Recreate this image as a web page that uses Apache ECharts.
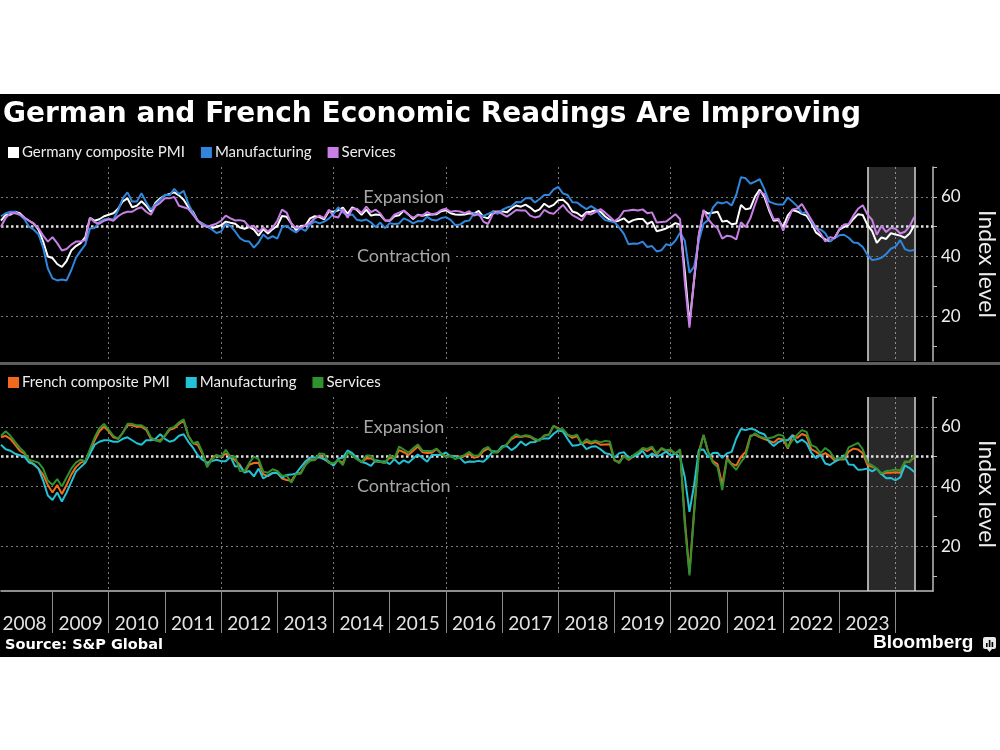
<!DOCTYPE html>
<html>
<head>
<meta charset="utf-8">
<script src="https://cdn.jsdelivr.net/npm/echarts@6/dist/echarts.min.js"></script>
<style>
  body { margin: 0; background: #fff; }
  #panel { position: absolute; left: 0; top: 94px; width: 1000px; height: 563px; background: #000; }
  #chart { position: absolute; left: 0; top: 0; width: 1000px; height: 750px; }
</style>
</head>
<body>
<div id="panel"></div>
<div id="chart"></div>
<script>
// monthly categories, Jan 2008 .. Aug 2024 (axis runs a few months past the data)
const months = [];
for (let y = 2008; y <= 2024; y++) {
    for (let m = 1; m <= 12; m++) {
        if (y === 2024 && m > 8) break;
        months.push(y + '-' + String(m).padStart(2, '0'));
    }
}

// Germany (Jan 2008 .. Apr 2024)
const deComposite = [
    52, 54, 54, 55, 54.5, 53, 52, 51, 49, 45, 40, 39.5,
    37.5, 36.5, 38.5, 42, 43.5, 44.5, 46.5, 53, 52, 52.5, 53.5, 54,
    54.5, 56, 58.5, 59.5, 56.5, 57, 58.5, 57, 55, 58, 59.5, 60.5,
    61, 61.5, 60.5, 59, 56.5, 55, 52, 51, 50, 49.5, 50, 50.5,
    51.7, 51.3, 51.0, 49.7, 49.3, 49.9, 49.0, 47.0, 49.2, 47.7, 49.2, 50.3,
    53.6, 53.3, 51.1, 48.8, 50.2, 50.4, 52.8, 53.5, 53.2, 52.5, 55.2, 55.0,
    55.5, 56.4, 54.3, 56.5, 55.6, 54.0, 55.7, 53.7, 54.1, 53.9, 52.1, 52.0,
    53.5, 53.8, 55.4, 54.1, 52.6, 54.0, 53.7, 54.0, 54.1, 54.2, 55.2, 55.5,
    54.5, 54.1, 54.0, 54.1, 54.5, 54.4, 55.3, 53.3, 52.8, 55.1, 55.0, 55.2,
    54.8, 56.1, 57.1, 56.7, 57.4, 56.4, 55.1, 55.8, 57.7, 56.6, 57.3, 58.9,
    59.0, 57.6, 55.1, 54.6, 53.4, 54.8, 55.0, 55.6, 55.0, 53.4, 52.3, 51.6,
    52.1, 52.8, 51.4, 52.2, 52.6, 52.6, 50.9, 51.7, 48.5, 48.9, 49.4, 50.2,
    51.2, 50.7, 35.0, 17.4, 32.3, 47.0, 55.3, 54.4, 54.7, 55.0, 51.7, 52.0,
    50.8, 51.1, 57.3, 55.8, 56.2, 60.1, 62.4, 60.0, 55.5, 52.0, 52.2, 49.9,
    53.8, 55.6, 55.1, 54.3, 53.7, 51.3, 48.1, 46.9, 45.7, 45.1, 46.3, 49.0,
    49.9, 50.7, 52.6, 54.2, 53.9, 50.6, 48.5, 44.6, 46.4, 45.9, 47.8, 47.4,
    47.0, 46.3, 47.7, 50.5
];
const deManufacturing = [
    53.5, 54.5, 55, 55, 54, 52.5, 50, 49, 47.5, 43, 36, 32.7,
    32, 32.3, 32, 35.4, 39.6, 41.9, 44, 49.4, 49.6, 51.5, 52.4, 52.7,
    52.4, 55.5, 59.5, 61.5, 58.4, 58.4, 61.2, 58.2, 55.7, 57.5, 59, 60.7,
    60.5, 62.7, 60.9, 62.0, 57.7, 54.6, 52.0, 50.9, 50.3, 49.1, 47.9, 48.4,
    51.0, 50.2, 48.4, 46.2, 45.2, 45.0, 43.0, 44.7, 47.4, 46.0, 46.8, 46.0,
    49.8, 50.3, 49.0, 48.1, 49.4, 48.6, 50.7, 51.8, 51.1, 51.7, 52.7, 54.3,
    56.5, 54.8, 53.7, 54.1, 52.3, 52.0, 52.4, 51.4, 49.9, 51.4, 49.5, 51.2,
    50.9, 51.1, 52.8, 52.1, 51.1, 51.9, 51.8, 53.3, 52.3, 52.1, 52.9, 53.2,
    52.3, 50.5, 50.7, 51.8, 52.1, 54.5, 53.8, 53.6, 54.3, 55.0, 54.3, 55.6,
    56.4, 56.8, 58.3, 58.2, 59.5, 59.6, 58.1, 59.3, 60.6, 60.6, 62.5, 63.3,
    61.1, 60.6, 58.2, 58.1, 56.9, 55.9, 56.9, 55.9, 53.7, 52.2, 51.8, 51.5,
    49.7, 47.6, 44.1, 44.4, 44.3, 45.0, 43.2, 43.5, 41.7, 42.1, 44.1, 43.7,
    45.3, 48.0, 45.4, 34.5, 36.6, 45.2, 51.0, 52.2, 56.4, 58.2, 57.8, 58.3,
    57.1, 60.7, 66.6, 66.2, 64.4, 65.1, 65.9, 62.6, 58.4, 57.8, 57.4, 57.4,
    59.8, 58.4, 56.9, 54.6, 54.8, 52.0, 49.3, 49.1, 47.8, 45.1, 46.2, 47.1,
    47.3, 46.3, 44.7, 44.5, 43.2, 40.6, 38.8, 39.1, 39.6, 40.8, 42.6, 43.3,
    45.5, 42.5, 41.9, 42.2
];
const deServices = [
    50, 53, 54.5, 54.5, 54, 53, 52, 51, 49.5, 47, 45, 46.5,
    44.5, 42, 42.5, 44, 45, 45, 45.5, 53, 51.5, 51, 52, 52.5,
    52, 53.5, 54.5, 55, 55, 56, 56.5, 55, 54, 57, 58, 59.5,
    59.5, 60, 57, 56.5, 56, 54, 52, 50.5, 50, 50.5, 51, 52,
    53.7, 52.8, 52.1, 52.2, 51.8, 49.9, 50.3, 48.3, 49.7, 48.4, 49.7, 52.0,
    55.7, 54.7, 50.9, 49.6, 49.7, 50.4, 51.3, 52.8, 53.7, 52.9, 55.7, 53.5,
    53.1, 55.9, 53.0, 56.0, 56.0, 54.6, 56.7, 54.9, 55.7, 54.4, 52.1, 52.1,
    54.0, 54.7, 55.4, 54.0, 53.0, 53.8, 53.8, 54.9, 54.1, 54.5, 55.6, 56.0,
    55.0, 55.3, 55.1, 54.5, 55.2, 53.7, 54.4, 51.7, 50.9, 54.2, 55.1, 54.3,
    53.4, 54.4, 55.6, 55.4, 55.4, 53.7, 53.1, 53.5, 55.6, 54.7, 54.3, 55.8,
    57.3, 55.3, 53.9, 53.0, 52.1, 54.5, 54.1, 55.0, 55.9, 54.7, 53.3, 51.8,
    53.0, 55.3, 55.4, 55.7, 55.4, 55.8, 54.5, 54.8, 51.4, 51.6, 51.7, 52.9,
    54.2, 52.5, 31.7, 16.2, 32.6, 47.3, 55.6, 52.5, 50.6, 49.5, 46.0, 47.0,
    46.7, 45.7, 51.5, 49.9, 52.8, 57.5, 61.8, 60.8, 56.2, 52.4, 52.7, 48.7,
    52.2, 55.8, 56.1, 57.6, 55.0, 52.4, 49.7, 47.7, 45.0, 46.5, 46.1, 49.2,
    50.7, 50.9, 53.7, 56.0, 57.2, 54.1, 52.3, 47.3, 50.3, 48.2, 49.6, 49.3,
    47.7, 48.3, 50.1, 53.3
];

// France (Jan 2008 .. Apr 2024)
const frComposite = [
    56.5, 57, 56, 54, 52, 51, 48.5, 47.5, 46, 44, 40.5, 38,
    40.5, 37.5, 40.5, 44, 46.5, 48, 48.5, 52, 55.5, 58.5, 60, 58.5,
    56.5, 56, 58, 60.5, 60.5, 60, 60, 59, 56, 55.5, 55.5, 57,
    59, 59.5, 61, 62, 57, 54.5, 54, 51, 47, 49.5, 50.5, 50,
    51.0, 50.2, 48.7, 47.3, 44.6, 47.3, 47.9, 48.0, 44.1, 43.5, 44.6, 44.6,
    42.7, 42.2, 41.9, 44.3, 44.6, 47.4, 49.1, 48.9, 50.5, 49.3, 48.0, 47.3,
    48.9, 47.9, 51.8, 50.6, 49.3, 48.1, 49.4, 49.5, 48.4, 48.2, 47.9, 49.7,
    49.3, 52.2, 51.5, 50.6, 52.0, 53.4, 51.5, 51.2, 51.3, 52.6, 51.0, 50.1,
    50.3, 50.2, 50.0, 50.2, 50.9, 49.6, 50.1, 51.9, 52.7, 51.6, 51.4, 53.1,
    54.1, 55.9, 56.8, 56.6, 56.9, 56.6, 55.6, 55.6, 57.1, 57.4, 60.3, 59.6,
    58.6, 57.3, 56.3, 56.9, 54.2, 55.0, 54.4, 54.9, 54.0, 54.1, 54.2, 48.7,
    48.2, 50.4, 48.9, 50.1, 51.2, 52.7, 51.9, 52.9, 50.8, 52.6, 52.1, 52.0,
    51.1, 52.0, 28.9, 11.1, 32.1, 51.7, 57.3, 51.6, 48.5, 47.5, 40.6, 49.5,
    47.7, 47.0, 50.0, 51.6, 57.0, 57.4, 56.6, 55.9, 55.3, 54.7, 56.1, 55.8,
    52.7, 57.2, 56.3, 57.6, 57.0, 52.5, 51.7, 50.4, 51.2, 50.2, 48.7, 49.1,
    49.1, 51.7, 52.7, 52.4, 51.2, 47.2, 46.6, 46.0, 44.1, 44.6, 44.6, 44.8,
    44.6, 48.1, 48.3, 49.9
];
const frManufacturing = [
    54, 52.5, 52, 51, 50.5, 50, 48, 47.5, 46, 42, 37, 35.5,
    38, 35, 38, 41.5, 45, 46.5, 48, 51, 54, 55, 55.5, 55.5,
    55, 55, 56, 56.5, 55.5, 54.5, 54, 55.5, 55.5, 56, 57.5, 56,
    55, 55.5, 57, 57.5, 55, 53, 50.5, 49, 48, 48.5, 49, 48.5,
    48.5, 50.0, 46.7, 46.9, 44.7, 45.2, 43.4, 46.0, 42.7, 43.7, 44.5, 44.6,
    42.9, 43.9, 44.0, 44.4, 46.4, 48.4, 49.7, 49.7, 49.8, 49.1, 48.4, 47.0,
    49.3, 49.7, 52.1, 51.2, 49.6, 48.2, 47.8, 46.9, 48.8, 48.5, 48.4, 47.5,
    49.2, 47.6, 48.8, 48.0, 49.4, 50.7, 49.6, 48.3, 50.6, 50.6, 50.6, 51.4,
    50.0, 50.2, 49.6, 48.0, 48.4, 48.3, 48.6, 48.3, 49.7, 51.8, 51.7, 53.5,
    53.6, 52.2, 53.3, 55.1, 53.8, 54.8, 54.9, 55.8, 56.1, 56.1, 57.7, 58.8,
    58.4, 55.9, 53.7, 53.8, 54.4, 52.5, 53.3, 53.5, 52.5, 51.2, 50.8, 49.7,
    51.2, 51.5, 49.7, 50.0, 50.6, 52.0, 49.7, 51.1, 50.1, 50.7, 51.7, 50.4,
    51.1, 49.8, 43.2, 31.5, 40.6, 52.3, 52.4, 49.8, 51.2, 51.3, 49.6, 51.1,
    51.6, 56.1, 59.3, 58.9, 59.4, 59.0, 58.0, 57.5, 55.0, 53.6, 54.9, 55.6,
    55.5, 57.2, 54.7, 55.7, 54.6, 51.4, 49.5, 50.6, 47.7, 47.2, 48.3, 49.2,
    50.5, 47.4, 47.3, 45.6, 45.7, 46.0, 45.1, 46.0, 44.2, 42.8, 42.9, 42.1,
    43.1, 47.1, 46.2, 44.9
];
const frServices = [
    57, 58.5, 57, 55, 53, 51.5, 49, 48.5, 48, 46, 42, 40.5,
    42.5, 40, 43, 46, 48, 49, 48.5, 52.5, 56.5, 59.5, 61, 59,
    57, 56, 58, 61, 61, 60.5, 60.5, 59.5, 56.5, 55.5, 55, 57,
    59.5, 60, 61.5, 62.5, 57, 54.5, 55, 51.5, 46.5, 49, 50.5, 50,
    52.3, 50.0, 50.1, 45.2, 45.1, 47.9, 50.0, 49.2, 45.0, 44.6, 45.8, 45.2,
    43.6, 43.7, 41.3, 44.1, 44.3, 47.2, 48.6, 48.9, 51.1, 50.9, 48.0, 47.8,
    48.9, 47.2, 51.5, 50.4, 49.1, 48.2, 50.4, 50.3, 48.4, 48.3, 47.9, 50.6,
    49.4, 53.4, 52.4, 51.4, 52.8, 54.1, 52.0, 51.9, 51.9, 52.7, 51.0, 49.8,
    50.3, 49.2, 49.9, 50.6, 51.6, 50.3, 50.5, 52.5, 53.3, 51.4, 51.6, 52.9,
    54.1, 56.4, 57.5, 56.7, 57.2, 56.9, 56.0, 55.3, 57.0, 57.3, 60.4, 59.1,
    59.2, 57.4, 56.9, 57.4, 54.3, 55.9, 54.9, 55.4, 54.8, 55.3, 55.1, 49.0,
    47.8, 50.2, 49.1, 50.5, 51.5, 52.9, 52.6, 53.4, 51.1, 52.9, 52.2, 52.4,
    51.0, 52.5, 27.4, 10.2, 31.1, 50.7, 57.3, 51.5, 48.0, 46.5, 38.8, 49.1,
    47.3, 45.6, 48.2, 50.3, 56.6, 57.8, 56.8, 56.3, 56.2, 56.6, 57.4, 57.0,
    53.1, 55.5, 57.4, 58.9, 58.3, 53.9, 53.2, 51.2, 52.9, 51.7, 49.3, 49.5,
    49.4, 53.1, 53.9, 54.6, 52.5, 48.0, 47.1, 46.0, 44.4, 45.2, 45.4, 45.7,
    45.4, 48.4, 48.3, 50.5
];

const shadeFrom = '2023-06';
const shadeTo = '2024-04';
const gridValues = [20, 40, 60];
const tickValues = [10, 20, 30, 40, 50, 60, 70];

const FONT = 'Lato';
const dotted = { color: '#7a7a7a', width: 1, type: [2, 3] };

function panelMarkers() {
    return {
        markArea: {
            silent: true,
            z: 1,
            itemStyle: { color: 'rgba(255,255,255,0.16)' },
            data: [[{ xAxis: shadeFrom }, { xAxis: shadeTo }]]
        },
        markLine: {
            silent: true,
            z: 1,
            symbol: ['none', 'none'],
            label: { show: false },
            lineStyle: dotted,
            data: gridValues.map(v => ({ yAxis: v }))
                .concat([
                    { yAxis: 50, lineStyle: { color: '#dedede', width: 2.5, type: [2.5, 2.5] } },
                    { xAxis: shadeFrom, lineStyle: { color: '#d8d8d8', width: 1.5, type: 'solid' } },
                    { xAxis: shadeTo, lineStyle: { color: '#d8d8d8', width: 1.5, type: 'solid' } }
                ])
        },
        markPoint: {
            silent: true,
            z: 1.5,
            symbol: 'rect',
            symbolSize: 1,
            itemStyle: { color: 'rgba(0,0,0,0)' },
            label: {
                show: true, position: 'inside', color: '#a6a6a6', fontSize: 18, fontFamily: FONT,
                backgroundColor: '#000', padding: [0, 3],
                formatter: p => p.name
            },
            data: [
                { name: 'Expansion', coord: ['2015-03', 60] },
                { name: 'Contraction', coord: ['2015-03', 40] }
            ]
        }
    };
}

function line(name, data, color, idx, extra) {
    return Object.assign({
        name: name, type: 'line', data: data,
        xAxisIndex: idx, yAxisIndex: idx,
        symbol: 'none', showSymbol: false, z: 3,
        lineStyle: { color: color, width: 2 },
        itemStyle: { color: color },
        emphasis: { disabled: true }
    }, extra || {});
}

function xAxisFor(idx) {
    const bottom = idx === 1;
    return {
        type: 'category', gridIndex: idx, data: months, boundaryGap: false,
        axisLine: { show: bottom, lineStyle: { color: '#bdbdbd', width: 1.5 } },
        axisTick: {
            show: bottom, length: 42, lineStyle: { color: '#8c8c8c', width: 1 },
            interval: (i, v) => v.endsWith('-12')
        },
        axisLabel: {
            show: bottom, color: '#e2e2e2', fontSize: 19, fontFamily: FONT, margin: 23,
            interval: (i, v) => v.endsWith('-06') && v < '2024',
            formatter: v => v.slice(0, 4)
        },
        splitLine: {
            show: true, lineStyle: dotted,
            interval: (i, v) => v.endsWith('-12') && Number(v.slice(0, 4)) % 2 === 1
        }
    };
}

function yAxisFor(idx) {
    return {
        type: 'value', gridIndex: idx, position: 'right', min: 5, max: 70,
        name: 'Index level', nameLocation: 'middle', nameRotate: -90, nameGap: 42,
        nameTextStyle: { color: '#eeeeee', fontSize: 23, fontFamily: FONT },
        axisLine: { show: true, lineStyle: { color: '#bdbdbd', width: 1.5 } },
        axisTick: { show: true, inside: false, length: 4, customValues: tickValues, lineStyle: { color: '#bdbdbd' } },
        axisLabel: { color: '#eeeeee', fontSize: 17, fontFamily: FONT, margin: 8, customValues: gridValues },
        splitLine: { show: false }
    };
}

const legendBase = {
    icon: 'rect', itemWidth: 11, itemHeight: 11, itemGap: 16, left: 3,
    selectedMode: false,
    textStyle: { color: '#eeeeee', fontSize: 15, fontFamily: FONT, padding: [0, 0, 0, -2] }
};

const chart = echarts.init(document.getElementById('chart'), null, { renderer: 'canvas' });
chart.setOption({
    animation: false,
    backgroundColor: 'transparent',
    title: {
        text: 'German and French Economic Readings Are Improving',
        left: 3, top: 101, padding: 0,
        textStyle: { color: '#ffffff', fontSize: 28, fontWeight: 'bold', fontFamily: 'DejaVu Sans' }
    },
    legend: [
        Object.assign({}, legendBase, {
            top: 140,
            data: ['Germany composite PMI', 'Manufacturing', 'Services']
        }),
        Object.assign({}, legendBase, {
            top: 370,
            data: ['French composite PMI', 'FR Manufacturing', 'FR Services'],
            formatter: n => n.replace(/^FR /, '')
        })
    ],
    grid: [
        { left: 1, right: 67, top: 167, height: 194, outerBoundsMode: 'none' },
        { left: 1, right: 67, top: 397, height: 194, outerBoundsMode: 'none' }
    ],
    xAxis: [xAxisFor(0), xAxisFor(1)],
    yAxis: [yAxisFor(0), yAxisFor(1)],
    series: [
        line('Germany composite PMI', deComposite, '#ffffff', 0, panelMarkers()),
        line('Manufacturing', deManufacturing, '#2f86dc', 0),
        line('Services', deServices, '#c87fe6', 0),
        line('French composite PMI', frComposite, '#f26a1b', 1, panelMarkers()),
        line('FR Manufacturing', frManufacturing, '#22c3d6', 1),
        line('FR Services', frServices, '#2f922f', 1)
    ],
    graphic: [
        { type: 'rect', left: 0, top: 362, shape: { width: 1000, height: 3 }, style: { fill: '#5e5e5e' }, silent: true },
        {
            type: 'text', left: 5, top: 638, silent: true,
            style: { text: 'Source: S&P Global', fill: '#ffffff', font: 'bold 14.5px "DejaVu Sans"' }
        },
        {
            type: 'text', left: 873, top: 633, silent: true,
            style: { text: 'Bloomberg', fill: '#ffffff', font: 'bold 19px "Liberation Sans"' }
        },
        {
            type: 'group', left: 983, top: 637, silent: true,
            children: [
                { type: 'rect', shape: { x: 0, y: 0, width: 13, height: 12, r: 2 }, style: { fill: '#e8e8e8' } },
                { type: 'polygon', shape: { points: [[4, 12], [9, 12], [6.5, 15]] }, style: { fill: '#e8e8e8' } },
                { type: 'rect', shape: { x: 3, y: 6, width: 1.6, height: 4 }, style: { fill: '#000' } },
                { type: 'rect', shape: { x: 5.8, y: 3, width: 1.6, height: 7 }, style: { fill: '#000' } },
                { type: 'rect', shape: { x: 8.6, y: 5, width: 1.6, height: 5 }, style: { fill: '#000' } }
            ]
        }
    ]
});
</script>
</body>
</html>
